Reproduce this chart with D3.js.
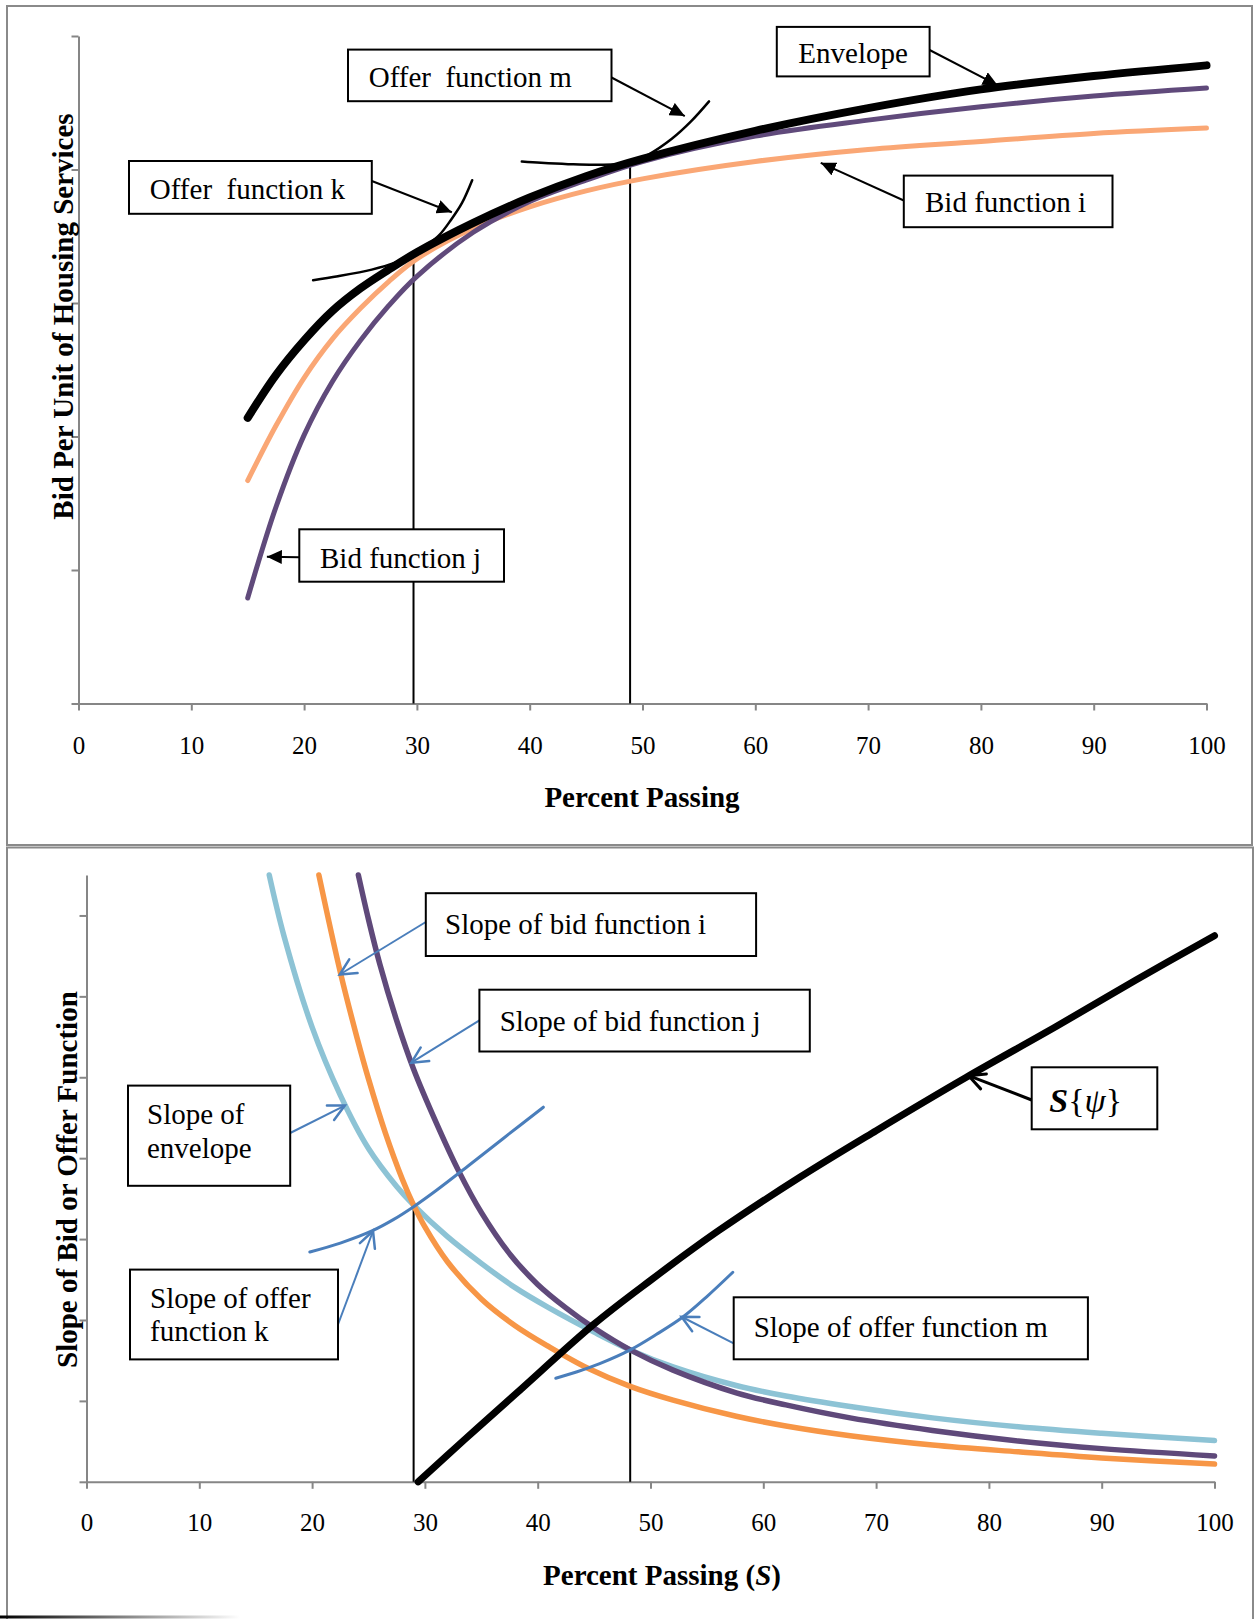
<!DOCTYPE html>
<html>
<head>
<meta charset="utf-8">
<script src="https://cdn.jsdelivr.net/npm/d3@7"></script>
<style>
  html, body { margin: 0; padding: 0; background: #fff; }
  svg { display: block; }
  text { font-family: "Liberation Serif", "Times New Roman", serif; fill: #000; }
</style>
</head>
<body>
<svg id="chart" width="1255" height="1619"></svg>
<script>
// ---------- data ----------
const xTickValues = [0, 10, 20, 30, 40, 50, 60, 70, 80, 90, 100];
const yTicksTop = [0, 1, 2, 3, 4, 5];
const yTicksBottom = [0, 1, 2, 3, 4, 5, 6, 7];

// Upper panel: bids per unit of housing services against percent passing
const bidFunctionI = [[15,1.67],[17.5,2.08],[20,2.44],[22.5,2.73],[25,2.96],[27.5,3.16],[30,3.33],[35,3.56],[40,3.72],[45,3.84],[50,3.93],[60,4.06],[70,4.15],[80,4.21],[90,4.27],[100,4.31]];
const bidFunctionJ = [[15,0.79],[17.5,1.47],[20,2.01],[22.5,2.41],[25,2.72],[27.5,2.98],[30,3.20],[35,3.53],[40,3.76],[45,3.92],[50,4.06],[60,4.25],[70,4.37],[80,4.47],[90,4.55],[100,4.61]];
const envelope = [[15,2.14],[17.5,2.46],[20,2.72],[22.5,2.94],[25,3.11],[27.5,3.25],[30,3.38],[35,3.60],[40,3.79],[45,3.95],[50,4.08],[60,4.29],[70,4.46],[80,4.60],[90,4.70],[100,4.78]];
const offerFunctionK = [[20.8,3.17],[23,3.20],[26,3.25],[28,3.30],[29.7,3.37],[31,3.44],[32,3.51],[33,3.62],[34,3.75],[34.9,3.92]];
const offerFunctionM = [[39.3,4.06],[41,4.05],[43.4,4.04],[46,4.035],[48.9,4.05],[50.5,4.11],[52.6,4.23],[54.3,4.36],[55.9,4.51]];
const tangencyTop = [[29.7,3.36],[48.9,4.05]];

// Lower panel: slopes of the bid and offer functions
const slopeEnvelope = [[16.2,7.5],[17.5,6.75],[20,5.62],[22.5,4.78],[25,4.12],[27.5,3.65],[29.0,3.42],[32,3.03],[35,2.70],[38,2.40],[41,2.15],[45,1.85],[48.2,1.63],[52,1.42],[57.6,1.19],[62,1.06],[67.7,0.93],[75,0.79],[82.6,0.68],[90,0.60],[100,0.51]];
const slopeBidI = [[20.6,7.5],[22.5,6.30],[24,5.48],[25,4.98],[26.5,4.31],[28,3.74],[29.0,3.42],[30,3.15],[32,2.72],[35,2.26],[38,1.93],[41,1.67],[44.5,1.40],[48.2,1.18],[52,1.01],[57.6,0.81],[62,0.69],[67.7,0.57],[75,0.455],[82.6,0.37],[90,0.295],[100,0.22]];
const slopeBidJ = [[24.1,7.5],[25,6.95],[26,6.40],[27.5,5.70],[29,5.10],[31,4.44],[33,3.84],[35,3.33],[37.5,2.82],[40,2.44],[42.5,2.15],[45,1.90],[48.2,1.63],[52,1.38],[57.6,1.10],[62,0.95],[67.7,0.79],[75,0.635],[82.6,0.505],[90,0.41],[100,0.32]];
const slopeOfferK = [[19.8,2.84],[22.5,2.95],[25.3,3.10],[27.2,3.24],[29.0,3.40],[31,3.60],[33.8,3.90],[37,4.25],[40.5,4.63]];
const slopeOfferM = [[41.6,1.28],[43.5,1.36],[45.5,1.46],[48.2,1.63],[50.5,1.82],[52.9,2.04],[55,2.29],[57.3,2.59]];
const sPsi = [[29.4,0],[33.5,0.52],[38,1.08],[45,1.95],[50,2.49],[56,3.10],[63.3,3.77],[70,4.34],[78,5.00],[86,5.63],[93,6.20],[100,6.75]];
const tangencyBottom = [[29.0,3.41],[48.2,1.63]];

// ---------- drawing ----------
const svg = d3.select("#chart");
const AXIS = "#868686";
const FRAME = "#8a8a8a";

const defs = svg.append("defs");
defs.append("marker").attr("id", "tri").attr("markerUnits", "userSpaceOnUse")
  .attr("markerWidth", 16).attr("markerHeight", 14).attr("refX", 15).attr("refY", 7)
  .attr("orient", "auto").append("path").attr("d", "M0,0 L15,7 L0,14 Z").attr("fill", "#000");
function chevron(id, color, w) {
  defs.append("marker").attr("id", id).attr("markerUnits", "userSpaceOnUse")
    .attr("markerWidth", 24).attr("markerHeight", 24).attr("refX", 17).attr("refY", 12)
    .attr("orient", "auto").style("overflow", "visible")
    .append("path").attr("d", "M1,4 L17,12 L1,20").attr("fill", "none")
    .attr("stroke", color).attr("stroke-width", w).attr("stroke-linecap", "round");
}
chevron("chevBlue", "#4A7EBB", 2.5);
chevron("chevBlack", "#000", 3);
const grad = defs.append("linearGradient").attr("id", "fade");
grad.append("stop").attr("offset", "0%").attr("stop-color", "#000");
grad.append("stop").attr("offset", "100%").attr("stop-color", "#fff");

// panel frames
svg.append("rect").attr("x", 7).attr("y", 6).attr("width", 1245).attr("height", 839)
  .attr("fill", "none").attr("stroke", FRAME).attr("stroke-width", 2);
svg.append("rect").attr("x", 7).attr("y", 847.5).attr("width", 1246).attr("height", 800)
  .attr("fill", "none").attr("stroke", FRAME).attr("stroke-width", 2);
svg.append("rect").attr("x", 0).attr("y", 1615.5).attr("width", 240).attr("height", 3)
  .attr("fill", "url(#fade)");

function panel(cfg) {
  const g = svg.append("g");
  const x = d3.scaleLinear().domain([0, 100]).range(cfg.xRange);
  const y = d3.scaleLinear().domain(cfg.yDomain).range(cfg.yRange);

  // axes
  const xAxis = g.append("g").attr("transform", `translate(0,${cfg.yRange[0]})`)
    .call(d3.axisBottom(x).tickValues(xTickValues).tickSize(7).tickSizeOuter(0));
  const yAxis = g.append("g").attr("transform", `translate(${cfg.xRange[0]},0)`)
    .call(d3.axisLeft(y).tickValues(cfg.yTicks).tickSize(7).tickSizeOuter(0).tickFormat(""));
  [xAxis, yAxis].forEach(a => {
    a.attr("font-family", null).attr("font-size", null);
    a.select(".domain").attr("stroke", AXIS).attr("stroke-width", 2);
    a.selectAll(".tick line").attr("stroke", AXIS).attr("stroke-width", 2);
  });
  xAxis.selectAll(".tick text").attr("font-size", 25).attr("fill", "#000")
    .attr("dy", null).attr("y", cfg.tickLabelY - cfg.yRange[0])
    .attr("dominant-baseline", "central");

  // axis titles
  const xt = g.append("text").attr("x", cfg.xTitle[0]).attr("y", cfg.xTitle[1])
    .attr("text-anchor", "middle").attr("dominant-baseline", "central")
    .attr("font-size", 29).attr("font-weight", "bold");
  cfg.xTitleParts.forEach(p => xt.append("tspan").attr("font-style", p[1] ? "italic" : null).text(p[0]));
  g.append("text").attr("transform", `translate(${cfg.yTitle[0]},${cfg.yTitle[1]}) rotate(-90)`)
    .attr("text-anchor", "middle").attr("dominant-baseline", "central")
    .attr("font-size", 29).attr("font-weight", "bold").text(cfg.yTitleText);

  const line = d3.line().x(d => x(d[0])).y(d => y(d[1])).curve(d3.curveCatmullRom.alpha(0.5));

  // vertical guide lines at the tangency points
  g.selectAll("line.guide").data(cfg.guides).join("line").attr("class", "guide")
    .attr("x1", d => x(d[0])).attr("x2", d => x(d[0]))
    .attr("y1", d => y(d[1])).attr("y2", y(0))
    .attr("stroke", "#000").attr("stroke-width", 2);

  cfg.series.forEach(s => {
    g.append("path").datum(s.data).attr("d", line).attr("fill", "none")
      .attr("stroke", s.color).attr("stroke-width", s.width)
      .attr("stroke-linecap", "round").attr("stroke-linejoin", "round");
  });

  // callouts
  cfg.notes.forEach(n => {
    const tip = [x(n.tip[0]), y(n.tip[1])];
    g.append("line").attr("x1", n.from[0]).attr("y1", n.from[1])
      .attr("x2", tip[0]).attr("y2", tip[1])
      .attr("stroke", n.arrowColor).attr("stroke-width", n.arrowWidth)
      .attr("marker-end", `url(#${n.marker})`);
    g.append("rect").attr("x", n.box[0]).attr("y", n.box[1])
      .attr("width", n.box[2] - n.box[0]).attr("height", n.box[3] - n.box[1])
      .attr("fill", "#fff").attr("stroke", "#000").attr("stroke-width", 2);
    n.lines.forEach((ln, i) => {
      const t = g.append("text").attr("x", n.textX).attr("y", n.baselines[i])
        .attr("font-size", n.size || 29).style("white-space", "pre");
      if (typeof ln === "string") t.text(ln);
      else ln.forEach(p => t.append("tspan").attr("font-style", p.style || null)
        .attr("font-weight", p.weight || null).text(p.t));
    });
  });
}

panel({
  xRange: [78.5, 1206.5], yDomain: [0, 5], yRange: [703.5, 36], yTicks: yTicksTop,
  tickLabelY: 745, xTitle: [642, 797], xTitleParts: [["Percent Passing", false]],
  yTitle: [63, 316.5], yTitleText: "Bid Per Unit of Housing Services",
  guides: tangencyTop,
  series: [
    { data: bidFunctionI, color: "#FAA775", width: 5 },
    { data: bidFunctionJ, color: "#604A7B", width: 5 },
    { data: envelope, color: "#000", width: 8 },
    { data: offerFunctionK, color: "#000", width: 2.5 },
    { data: offerFunctionM, color: "#000", width: 2.5 }
  ],
  notes: [
    { box: [348, 49.6, 611.5, 101.2], textX: 368.7, baselines: [86.5], lines: ["Offer  function m"],
      from: [611.5, 77.5], tip: [53.75, 4.40], marker: "tri", arrowColor: "#000", arrowWidth: 2 },
    { box: [776.8, 26.9, 929.6, 76.4], textX: 798.3, baselines: [62.5], lines: ["Envelope"],
      from: [929.6, 50], tip: [81.5, 4.63], marker: "tri", arrowColor: "#000", arrowWidth: 2 },
    { box: [129, 161, 371.8, 213.8], textX: 149.8, baselines: [198.5], lines: ["Offer  function k"],
      from: [371.8, 181], tip: [33.1, 3.68], marker: "tri", arrowColor: "#000", arrowWidth: 2 },
    { box: [903.8, 175.6, 1112.5, 227.2], textX: 925, baselines: [212], lines: ["Bid function i"],
      from: [903.8, 200.5], tip: [65.8, 4.05], marker: "tri", arrowColor: "#000", arrowWidth: 2 },
    { box: [299.3, 529.3, 504, 581.7], textX: 320, baselines: [567.5], lines: ["Bid function j"],
      from: [299.3, 557.3], tip: [16.7, 1.10], marker: "tri", arrowColor: "#000", arrowWidth: 2 }
  ]
});

panel({
  xRange: [86.5, 1214.5], yDomain: [0, 7.5], yRange: [1481.8, 875], yTicks: yTicksBottom,
  tickLabelY: 1522.5, xTitle: [662, 1575],
  xTitleParts: [["Percent Passing (", false], ["S", true], [")", false]],
  yTitle: [67, 1179.6], yTitleText: "Slope of Bid or Offer Function",
  guides: tangencyBottom,
  series: [
    { data: slopeEnvelope, color: "#8DC3D5", width: 5.5 },
    { data: slopeBidI, color: "#F79646", width: 5.5 },
    { data: slopeBidJ, color: "#5F497A", width: 5.5 },
    { data: sPsi, color: "#000", width: 7 },
    { data: slopeOfferK, color: "#4A7EBB", width: 3 },
    { data: slopeOfferM, color: "#4A7EBB", width: 3 }
  ],
  notes: [
    { box: [425.8, 893.2, 756.1, 956], textX: 445, baselines: [934], lines: ["Slope of bid function i"],
      from: [425.8, 922], tip: [22.45, 6.27], marker: "chevBlue", arrowColor: "#4A7EBB", arrowWidth: 2 },
    { box: [479.4, 989.7, 809.8, 1051.5], textX: 499.7, baselines: [1031], lines: ["Slope of bid function j"],
      from: [479.4, 1020.3], tip: [28.8, 5.18], marker: "chevBlue", arrowColor: "#4A7EBB", arrowWidth: 2 },
    { box: [128, 1085.6, 290.2, 1185.8], textX: 147, baselines: [1123.5, 1157.5], lines: ["Slope of", "envelope"],
      from: [290.2, 1133], tip: [22.9, 4.65], marker: "chevBlue", arrowColor: "#4A7EBB", arrowWidth: 2 },
    { box: [130, 1269.6, 338, 1359.4], textX: 150, baselines: [1307.5, 1340.5], lines: ["Slope of offer", "function k"],
      from: [338, 1324.5], tip: [25.4, 3.10], marker: "chevBlue", arrowColor: "#4A7EBB", arrowWidth: 2 },
    { box: [733.7, 1297.3, 1087.9, 1359.3], textX: 753.7, baselines: [1337], lines: ["Slope of offer function m"],
      from: [733.7, 1343.3], tip: [52.75, 2.04], marker: "chevBlue", arrowColor: "#4A7EBB", arrowWidth: 2 },
    { box: [1031.7, 1067.3, 1157.3, 1129.3], textX: 1049.3, baselines: [1111.5], size: 34,
      lines: [[{ t: "S", style: "italic", weight: "bold" }, { t: "{" }, { t: "ψ", style: "italic" }, { t: "}" }]],
      from: [1031.7, 1100], tip: [78.2, 5.02], marker: "chevBlack", arrowColor: "#000", arrowWidth: 3 }
  ]
});
</script>
</body>
</html>
